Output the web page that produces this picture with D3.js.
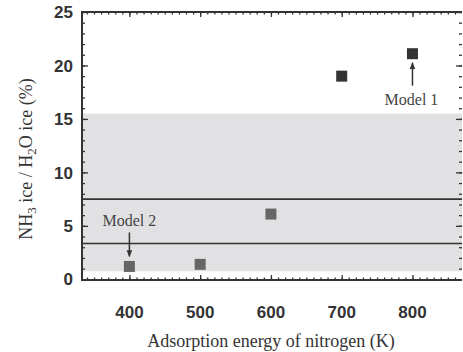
<!DOCTYPE html>
<html><head><meta charset="utf-8">
<script src="https://cdn.jsdelivr.net/npm/d3@7"></script>
<style>body{margin:0;background:#fff}svg{display:block}</style>
</head><body>
<svg id="c" width="463" height="352"></svg>
<script>
const energies = [400, 500, 600, 700, 800];
const ratios = [1.2, 1.4, 6.1, 19.0, 21.1];
const pointColors = ["#666", "#666", "#666", "#333", "#333"];
const xTicks = [400, 500, 600, 700, 800];
const yTicks = [0, 5, 10, 15, 20, 25];
const bandRange = [0.75, 15.5];
const hLines = [7.5, 3.35];
const annotations = [
  {label: "Model 1", x: 800, y: 21.1, dir: "up"},
  {label: "Model 2", x: 400, y: 1.2, dir: "down"}
];

const SERIF = '"Liberation Serif", "Times New Roman", serif';
const SANS = '"Liberation Sans", Arial, sans-serif';
const svg = d3.select("#c");
const L = 82, R = 462, T = 12, B = 280;
const x = d3.scaleLinear().domain([333, 870]).range([L, R]);
const y = d3.scaleLinear().domain([0, 25]).range([B - 0.7, T]);

svg.append("rect").attr("x", L).attr("width", R - L)
  .attr("y", y(bandRange[1])).attr("height", y(bandRange[0]) - y(bandRange[1]))
  .attr("fill", "#e1e1e3");

svg.selectAll("line.h").data(hLines).join("line")
  .attr("x1", L).attr("x2", R).attr("y1", d => y(d)).attr("y2", d => y(d))
  .attr("stroke", "#333").attr("stroke-width", 1.6);

const s = 11;
svg.selectAll("rect.p").data(energies).join("rect")
  .attr("x", d => x(d) - s / 2).attr("y", (d, i) => y(ratios[i]) - s / 2)
  .attr("width", s).attr("height", s)
  .attr("fill", (d, i) => pointColors[i]);

const xMinor = d3.range(340, 870, 10);
const yMinor = d3.range(0, 25.01, 1);
function styleAx(g) {
  g.select(".domain").remove();
  g.selectAll("line").attr("stroke", "#333").attr("stroke-width", 1.3);
}
svg.append("g").attr("transform", `translate(0,${B})`)
  .call(d3.axisTop(x).tickValues(xMinor).tickSize(2.5).tickFormat("")).call(styleAx);
svg.append("g").attr("transform", `translate(0,${B})`)
  .call(d3.axisTop(x).tickValues(xTicks).tickSize(5).tickFormat("")).call(styleAx);
svg.append("g").attr("transform", `translate(0,${T})`)
  .call(d3.axisBottom(x).tickValues(xMinor).tickSize(2.5).tickFormat("")).call(styleAx);
svg.append("g").attr("transform", `translate(0,${T})`)
  .call(d3.axisBottom(x).tickValues(xTicks).tickSize(5).tickFormat("")).call(styleAx);
svg.append("g").attr("transform", `translate(${L},0)`)
  .call(d3.axisRight(y).tickValues(yMinor).tickSize(3).tickFormat("")).call(styleAx);
svg.append("g").attr("transform", `translate(${L},0)`)
  .call(d3.axisRight(y).tickValues(yTicks).tickSize(6).tickFormat("")).call(styleAx);
svg.append("g").attr("transform", `translate(${R},0)`)
  .call(d3.axisLeft(y).tickValues(yMinor).tickSize(3).tickFormat("")).call(styleAx);
svg.append("g").attr("transform", `translate(${R},0)`)
  .call(d3.axisLeft(y).tickValues(yTicks).tickSize(6).tickFormat("")).call(styleAx);

svg.append("path").attr("d", `M${R},${T}H${L}V${B}H${R}`)
  .attr("fill", "none").attr("stroke", "#333").attr("stroke-width", 2);

svg.selectAll("text.xl").data(xTicks).join("text")
  .attr("x", d => x(d)).attr("y", 318).attr("text-anchor", "middle")
  .style("font-family", SANS).style("font-weight", "bold").style("font-size", "17px")
  .attr("fill", "#333").text(d => d);
svg.selectAll("text.yl").data(yTicks).join("text")
  .attr("x", 73).attr("y", d => y(d)).attr("dy", "0.36em").attr("text-anchor", "end")
  .style("font-family", SANS).style("font-weight", "bold").style("font-size", "17px")
  .attr("fill", "#333").text(d => d);

svg.append("text").attr("x", 271).attr("y", 346.5).attr("text-anchor", "middle")
  .style("font-family", SERIF).style("font-size", "18px")
  .attr("fill", "#333").text("Adsorption energy of nitrogen (K)");
const yt = svg.append("text").attr("transform", "translate(32,159) rotate(-90)")
  .attr("text-anchor", "middle").style("font-family", SERIF).style("font-size", "18px")
  .attr("fill", "#333");
yt.append("tspan").text("NH");
yt.append("tspan").style("font-size", "13px").attr("dy", 4).text("3");
yt.append("tspan").attr("dy", -4).text(" ice / H");
yt.append("tspan").style("font-size", "13px").attr("dy", 4).text("2");
yt.append("tspan").attr("dy", -4).text("O ice (%)");

svg.append("defs").append("marker").attr("id", "ah").attr("viewBox", "0 0 10 10")
  .attr("refX", 9).attr("refY", 5).attr("markerWidth", 7).attr("markerHeight", 7)
  .attr("orient", "auto").attr("markerUnits", "userSpaceOnUse")
  .append("path").attr("d", "M0,1L10,5L0,9z").attr("fill", "#333");
annotations.forEach(a => {
  const px = x(a.x), py = y(a.y);
  if (a.dir === "up") {
    svg.append("line").attr("x1", px).attr("x2", px).attr("y1", py + 32).attr("y2", py + 9)
      .attr("stroke", "#333").attr("stroke-width", 1.5).attr("marker-end", "url(#ah)");
    svg.append("text").attr("x", px - 1).attr("y", py + 51).attr("text-anchor", "middle")
      .style("font-family", SERIF).style("font-size", "16px")
      .attr("fill", "#444").text(a.label);
  } else {
    svg.append("line").attr("x1", px).attr("x2", px).attr("y1", py - 34).attr("y2", py - 10)
      .attr("stroke", "#333").attr("stroke-width", 1.5).attr("marker-end", "url(#ah)");
    svg.append("text").attr("x", px).attr("y", py - 40).attr("text-anchor", "middle")
      .style("font-family", SERIF).style("font-size", "16px")
      .attr("fill", "#444").text(a.label);
  }
});
</script>
</body></html>
